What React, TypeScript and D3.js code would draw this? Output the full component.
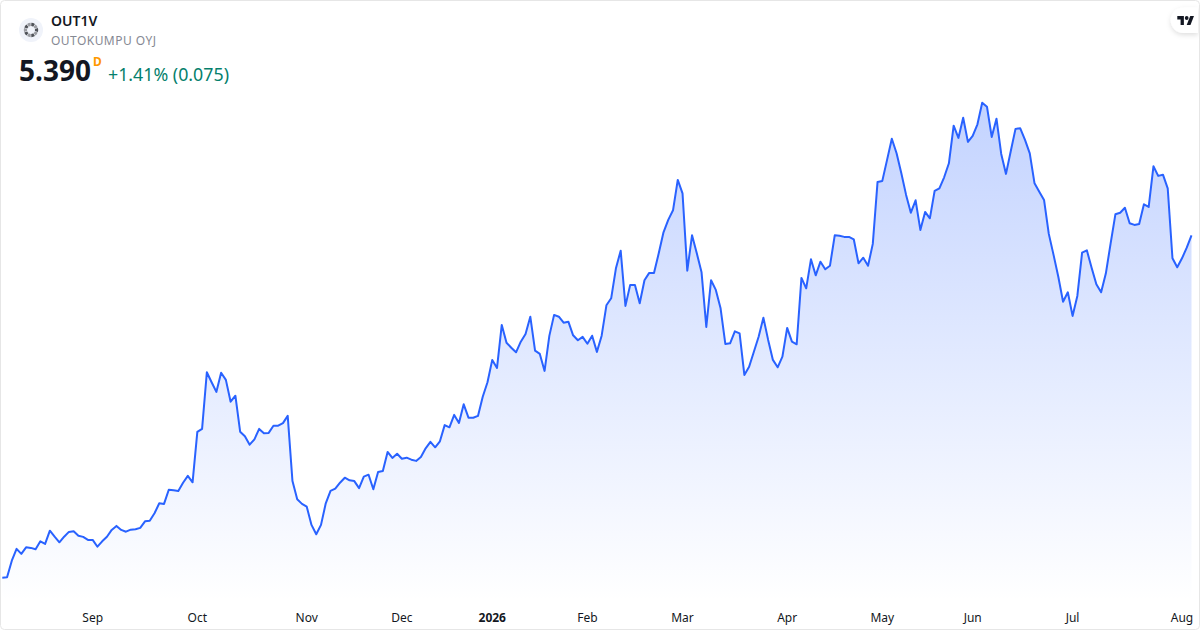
import React from "react";
import * as d3 from "d3";

const closes: number[] = [
  3.678, 3.68, 3.763, 3.822, 3.797, 3.83, 3.827, 3.82, 3.86, 3.847,
  3.913, 3.883, 3.855, 3.883, 3.907, 3.91, 3.888, 3.882, 3.867, 3.867,
  3.833, 3.86, 3.883, 3.917, 3.937, 3.917, 3.908, 3.918, 3.92, 3.927,
  3.96, 3.963, 4.0, 4.05, 4.047, 4.118, 4.115, 4.112, 4.153, 4.187,
  4.155, 4.407, 4.422, 4.705, 4.655, 4.607, 4.703, 4.667, 4.558, 4.588,
  4.408, 4.385, 4.343, 4.37, 4.422, 4.4, 4.402, 4.438, 4.438, 4.451,
  4.487, 4.161, 4.07, 4.047, 4.033, 3.942, 3.895, 3.942, 4.05, 4.112,
  4.123, 4.153, 4.178, 4.165, 4.161, 4.126, 4.183, 4.193, 4.12, 4.207,
  4.212, 4.307, 4.277, 4.298, 4.273, 4.278, 4.268, 4.262, 4.282, 4.325,
  4.357, 4.33, 4.36, 4.441, 4.43, 4.492, 4.452, 4.545, 4.478, 4.478,
  4.487, 4.583, 4.655, 4.767, 4.727, 4.942, 4.853, 4.828, 4.805, 4.858,
  4.897, 4.983, 4.813, 4.797, 4.712, 4.887, 4.992, 4.983, 4.953, 4.958,
  4.89, 4.865, 4.882, 4.848, 4.888, 4.807, 4.888, 5.04, 5.075, 5.225,
  5.313, 5.037, 5.142, 5.142, 5.05, 5.165, 5.202, 5.202, 5.3, 5.405,
  5.467, 5.515, 5.667, 5.6, 5.213, 5.39, 5.3, 5.205, 4.932, 5.165,
  5.117, 5.025, 4.847, 4.85, 4.91, 4.9, 4.692, 4.733, 4.808, 4.883,
  4.978, 4.867, 4.767, 4.73, 4.783, 4.927, 4.858, 4.845, 5.177, 5.125,
  5.27, 5.19, 5.258, 5.22, 5.238, 5.39, 5.388, 5.382, 5.382, 5.37,
  5.25, 5.278, 5.238, 5.347, 5.657, 5.662, 5.767, 5.873, 5.8, 5.7,
  5.592, 5.503, 5.565, 5.417, 5.507, 5.475, 5.612, 5.625, 5.68, 5.75,
  5.938, 5.877, 5.978, 5.857, 5.887, 5.945, 6.053, 6.033, 5.882, 5.973,
  5.797, 5.697, 5.81, 5.922, 5.925, 5.867, 5.8, 5.65, 5.608, 5.567,
  5.397, 5.292, 5.183, 5.058, 5.105, 4.987, 5.087, 5.303, 5.315, 5.228,
  5.145, 5.105, 5.2, 5.35, 5.495, 5.503, 5.528, 5.45, 5.442, 5.447,
  5.545, 5.532, 5.735, 5.687, 5.693, 5.625, 5.275, 5.23, 5.275, 5.328,
  5.39,
];

const tickLabels: string[] = ["Sep", "Oct", "Nov", "Dec", "2026", "Feb", "Mar", "Apr", "May", "Jun", "Jul", "Aug"];
const tickSessions: number[] = [19, 41, 64, 84, 103, 123, 143, 165, 185, 204, 225, 248];
const boldTicks: string[] = ["2026"];

const symbol = "OUT1V";
const companyName = "OUTOKUMPU OYJ";
const lastPrice = "5.390";
const interval = "D";
const change = "+1.41% (0.075)";

const FONT = "'Noto Sans', sans-serif";
const W = 1200;
const H = 630;

export default function App() {
  const x = d3.scaleLinear().domain([0, closes.length - 1]).range([2.3, 1191.5]);
  const y = d3.scaleLinear().domain([3.678, 5.39]).range([577.7, 235.3]);
  const plotBottom = 601;
  const line = d3.line<number>().x((_, i) => x(i)).y((d) => y(d));
  const area = d3.area<number>().x((_, i) => x(i)).y0(plotBottom).y1((d) => y(d));
  const ringSegments = d3.range(10).map((i) =>
    d3.arc()({
      innerRadius: 4,
      outerRadius: 7.2,
      startAngle: (i * Math.PI) / 5 + 0.05,
      endAngle: ((i + 1) * Math.PI) / 5 - 0.05,
    } as any) as string
  );
  return (
    <svg
      width={W}
      height={H}
      viewBox={`0 0 ${W} ${H}`}
      style={{ position: "fixed", left: 0, top: 0, display: "block", background: "#fff" }}
    >
      <defs>
        <linearGradient id="fade" gradientUnits="userSpaceOnUse" x1="0" y1="102" x2="0" y2={plotBottom}>
          <stop offset="0" stopColor="#2962ff" stopOpacity={0.28} />
          <stop offset="1" stopColor="#2962ff" stopOpacity={0} />
        </linearGradient>
        <filter id="badgeShadow" x="-40%" y="-40%" width="180%" height="200%">
          <feDropShadow dx="0" dy="2" stdDeviation="2.5" floodColor="#000" floodOpacity={0.13} />
        </filter>
      </defs>
      <path d={area(closes) as string} fill="url(#fade)" />
      <path d={line(closes) as string} fill="none" stroke="#2962ff" strokeWidth={2} strokeLinejoin="round" />
      {tickLabels.map((t, i) => (
        <text
          key={t}
          x={x(tickSessions[i])}
          y={622}
          textAnchor="middle"
          fontFamily={FONT}
          fontSize={12}
          fontWeight={boldTicks.includes(t) ? 700 : 400}
          fill="#131722"
        >
          {t}
        </text>
      ))}
      <path
        d="M1198 7.5 H1183.5 a12.75 12.75 0 0 0 0 25.5 H1198 Z"
        fill="#fff"
        filter="url(#badgeShadow)"
      />
      <g transform="translate(1177.3,14) scale(0.47,0.5)" fill="#131722">
        <path d="M14 22H7V11H0V4h14v18z" />
        <path d="M28 22h-8l7.5-18h8L28 22z" />
        <circle cx={20} cy={8} r={4} />
      </g>
      <rect x={0.5} y={0.5} width={W - 1} height={H - 1} rx={4} fill="none" stroke="#e6e6e6" />
      <g transform="translate(31,30)">
        <circle r={12} fill="#f0f3fa" />
        {ringSegments.map((d, i) => (
          <path key={i} d={d} fill={i % 2 ? "#9a9ca2" : "#4f5258"} />
        ))}
      </g>
      <text x={51} y={26} fontFamily={FONT} fontSize={14} fontWeight={600} fill="#131722">{symbol}</text>
      <text x={51} y={45} fontFamily={FONT} fontSize={12} letterSpacing={0.45} fill="#868993">{companyName}</text>
      <text x={19} y={81} fontFamily={FONT} fontSize={28} fontWeight={700} fill="#131722">{lastPrice}</text>
      <text x={93} y={66} fontFamily={FONT} fontSize={12} fontWeight={700} fill="#ff9800">{interval}</text>
      <text x={108} y={81} fontFamily={FONT} fontSize={17.8} fill="#057f6c">{change}</text>
    </svg>
  );
}
